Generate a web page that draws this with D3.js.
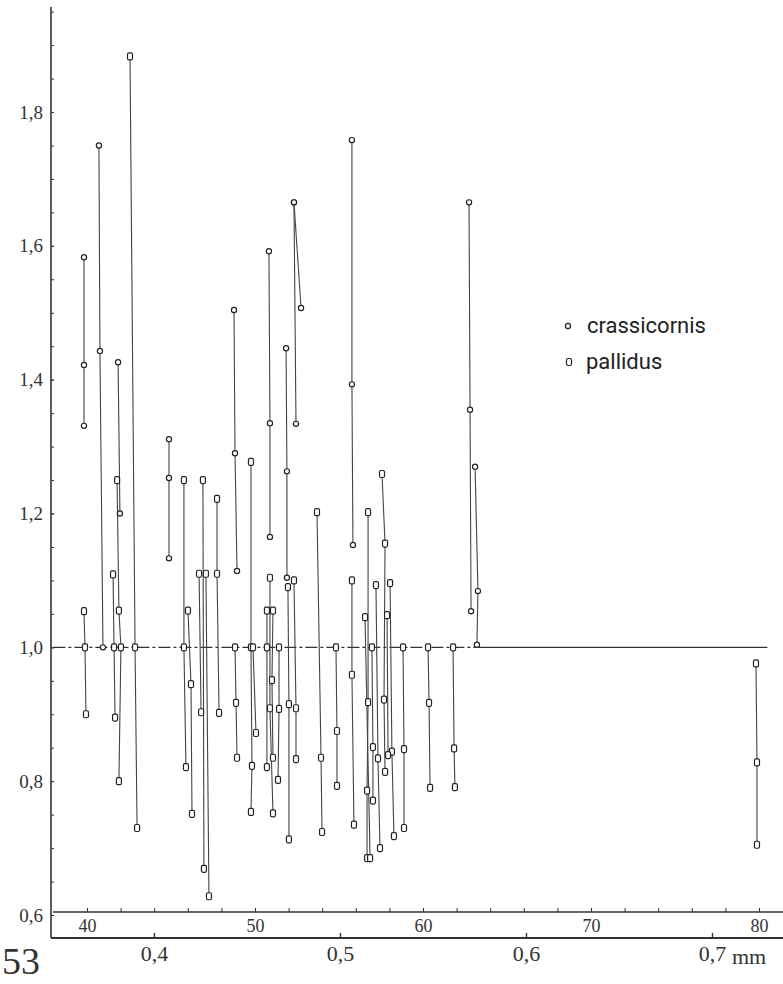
<!DOCTYPE html>
<html>
<head>
<meta charset="utf-8">
<script src="https://cdn.jsdelivr.net/npm/d3@7"></script>
<style>
  body { margin: 0; background: #fff; }
  svg { display: block; }
</style>
</head>
<body>
<div id="chart"></div>
<script>
// tick values
const ratioTicks = [0.6, 0.8, 1.0, 1.2, 1.4, 1.6, 1.8]
const countTicks = [40, 50, 60, 70, 80]
const mmTicks = [0.4, 0.5, 0.6, 0.7]

// reference line at ratio 1,0 (dashed part, then solid part), in count units
const refLine = { value: 1.0, start: 38, brk: 63.3, end: 80.5 }

// each line = points [count, ratio]
const crassicornis = [
  [[39.82, 1.583], [39.82, 1.422], [39.82, 1.331]],
  [[40.71, 1.75], [40.77, 1.443], [40.95, 1.0]],
  [[41.85, 1.426], [41.96, 1.2]],
  [[44.88, 1.311], [44.88, 1.253], [44.88, 1.133]],
  [[48.75, 1.504], [48.81, 1.29], [48.93, 1.114]],
  [[50.83, 1.592], [50.89, 1.335], [50.89, 1.165]],
  [[51.85, 1.447], [51.9, 1.263], [51.9, 1.104]],
  [[52.32, 1.665], [52.44, 1.334]],
  [[52.32, 1.665], [52.74, 1.507]],
  [[55.77, 1.758], [55.77, 1.393], [55.83, 1.153]],
  [[62.74, 1.665], [62.8, 1.355], [62.86, 1.054]],
  [[63.1, 1.27], [63.27, 1.084], [63.21, 1.004]]
]

const pallidus = [
  [[39.82, 1.054], [39.88, 1.0], [39.94, 0.9]],
  [[41.79, 1.25], [41.9, 1.055], [42.02, 1.0], [41.9, 0.8]],
  [[41.55, 1.109], [41.61, 1.0], [41.67, 0.895]],
  [[42.56, 1.883], [42.86, 1.0], [42.98, 0.73]],
  [[45.77, 1.25], [45.77, 1.0], [45.89, 0.821]],
  [[46.01, 1.055], [46.19, 0.945], [46.25, 0.751]],
  [[46.67, 1.11], [46.79, 0.903]],
  [[46.9, 1.25], [46.96, 0.669]],
  [[47.08, 1.11], [47.26, 0.628]],
  [[47.74, 1.222], [47.74, 1.11], [47.86, 0.902]],
  [[48.81, 1.0], [48.87, 0.917], [48.93, 0.835]],
  [[49.76, 1.277], [49.76, 1.0], [49.82, 0.823], [49.76, 0.754]],
  [[49.88, 1.0], [50.06, 0.872]],
  [[50.71, 1.055], [50.71, 1.0], [50.71, 0.821]],
  [[50.89, 1.104], [50.89, 0.909], [51.07, 0.752]],
  [[51.07, 1.055], [51.01, 0.951], [51.07, 0.835]],
  [[51.43, 1.0], [51.43, 0.908], [51.37, 0.802]],
  [[51.96, 1.09], [52.02, 0.915], [52.02, 0.713]],
  [[52.32, 1.1], [52.44, 0.909], [52.44, 0.833]],
  [[53.69, 1.202], [53.93, 0.835], [53.99, 0.724]],
  [[54.82, 1.0], [54.88, 0.875], [54.88, 0.793]],
  [[55.77, 1.1], [55.77, 0.959], [55.89, 0.735]],
  [[56.73, 1.202], [56.73, 0.918], [56.67, 0.786], [56.67, 0.685]],
  [[56.55, 1.045], [56.85, 0.685]],
  [[56.96, 1.0], [57.02, 0.851], [57.02, 0.771]],
  [[57.2, 1.093], [57.32, 0.834], [57.44, 0.7]],
  [[57.56, 1.259], [57.74, 1.155], [57.68, 0.922], [57.74, 0.814]],
  [[58.04, 1.096], [58.15, 0.844], [58.27, 0.718]],
  [[57.86, 1.048], [57.92, 0.839]],
  [[58.81, 1.0], [58.87, 0.848], [58.87, 0.73]],
  [[60.3, 1.0], [60.36, 0.917], [60.42, 0.79]],
  [[61.79, 1.0], [61.85, 0.849], [61.9, 0.791]],
  [[79.82, 0.976], [79.88, 0.828], [79.88, 0.705]]
]

const width = 783
const height = 984
const ink = "#333"
const serif = "Liberation Serif, DejaVu Serif, serif"

const svg = d3
  .select("#chart")
  .append("svg")
  .attr("width", width)
  .attr("height", height)

// scales
const x = d3.scaleLinear().domain([40, 80]).range([87, 759])
const xmm = d3.scaleLinear().domain([0.4, 0.7]).range([154, 712])
const y = d3.scaleLinear().domain([0.6, 1.8]).range([915, 112])

const axisX = 51
const countAxisY = 912
const mmAxisY = 938
const comma = (d) => d.toFixed(1).replace(".", ",")

// restyle an axis group: no domain, serif labels
function styleAxis(g, size) {
  g.select(".domain").remove()
  g.attr("font-family", serif)
  g.selectAll(".tick line").attr("stroke", ink)
  g.selectAll(".tick text").attr("font-family", serif).attr("font-size", size).attr("fill", ink)
}

// frame line
svg.append("line")
  .attr("x1", axisX).attr("x2", axisX)
  .attr("y1", y(1.957)).attr("y2", mmAxisY)
  .attr("stroke", ink).attr("stroke-width", 1.6)

// y axis: minor ticks then labelled ticks
svg.append("g")
  .attr("transform", `translate(${axisX},0)`)
  .call(d3.axisLeft(y).tickValues(d3.range(0.6, 1.951, 0.05)).tickSizeInner(-3).tickSizeOuter(0).tickFormat(""))
  .call((g) => styleAxis(g, 18))

svg.append("g")
  .attr("transform", `translate(${axisX},0)`)
  .call(d3.axisLeft(y).tickValues(ratioTicks).tickSizeInner(-3).tickSizeOuter(0).tickPadding(8).tickFormat(comma))
  .call((g) => styleAxis(g, 19))

// upper x axis (count)
svg.append("line")
  .attr("x1", axisX + 2).attr("x2", width)
  .attr("y1", countAxisY).attr("y2", countAxisY)
  .attr("stroke", ink).attr("stroke-width", 1.6)

svg.append("g")
  .attr("transform", `translate(0,${countAxisY})`)
  .call(d3.axisBottom(x).tickValues(d3.range(40, 81, 2)).tickSizeInner(-4).tickSizeOuter(0).tickFormat(""))
  .call((g) => styleAxis(g, 18))

svg.append("g")
  .attr("transform", `translate(0,${countAxisY})`)
  .call(d3.axisBottom(x).tickValues(countTicks).tickSizeInner(-4).tickSizeOuter(0).tickPadding(7))
  .call((g) => styleAxis(g, 18))

// lower x axis (mm)
svg.append("line")
  .attr("x1", axisX).attr("x2", width)
  .attr("y1", mmAxisY).attr("y2", mmAxisY)
  .attr("stroke", ink).attr("stroke-width", 1.8)

svg.append("g")
  .attr("transform", `translate(0,${mmAxisY})`)
  .call(d3.axisBottom(xmm).tickValues(mmTicks).tickSizeInner(-5).tickSizeOuter(0).tickPadding(7).tickFormat(comma))
  .call((g) => styleAxis(g, 22))
  .call((g) => g.selectAll(".tick line").attr("stroke-width", 1.4))

svg.append("text")
  .attr("x", xmm(0.7) + 20)
  .attr("y", mmAxisY + 26)
  .attr("font-family", serif)
  .attr("font-size", 22)
  .attr("fill", ink)
  .text("mm")

// page number
svg.append("text")
  .attr("x", 2)
  .attr("y", 974)
  .attr("font-family", serif)
  .attr("font-size", 38)
  .attr("fill", ink)
  .text("53")

// reference line at 1,0
svg.append("line")
  .attr("x1", x(refLine.start)).attr("x2", x(refLine.brk))
  .attr("y1", y(refLine.value)).attr("y2", y(refLine.value))
  .attr("stroke", ink).attr("stroke-width", 1.1)
  .attr("stroke-dasharray", "12,3,3,3")

svg.append("line")
  .attr("x1", x(refLine.brk)).attr("x2", x(refLine.end))
  .attr("y1", y(refLine.value)).attr("y2", y(refLine.value))
  .attr("stroke", ink).attr("stroke-width", 1.4)

// sample lines
const line = d3.line().x((d) => x(d[0])).y((d) => y(d[1]))

svg.append("g")
  .selectAll("path")
  .data(crassicornis.concat(pallidus))
  .join("path")
  .attr("d", line)
  .attr("fill", "none")
  .attr("stroke", "#444")
  .attr("stroke-width", 1.1)

// markers
svg.append("g")
  .selectAll("circle")
  .data(crassicornis.flat())
  .join("circle")
  .attr("cx", (d) => x(d[0]))
  .attr("cy", (d) => y(d[1]))
  .attr("r", 2.6)
  .attr("fill", "#fff")
  .attr("stroke", "#222")
  .attr("stroke-width", 1.2)

svg.append("g")
  .selectAll("rect")
  .data(pallidus.flat())
  .join("rect")
  .attr("x", (d) => x(d[0]) - 2.5)
  .attr("y", (d) => y(d[1]) - 3.5)
  .attr("width", 5)
  .attr("height", 7)
  .attr("rx", 1.5)
  .attr("fill", "#fff")
  .attr("stroke", "#222")
  .attr("stroke-width", 1.2)

// legend
const legend = svg.append("g").attr("font-family", "Roboto, sans-serif").attr("font-size", 22).attr("fill", "#222")
legend.append("circle").attr("cx", 568).attr("cy", 326).attr("r", 2.6)
  .attr("fill", "#fff").attr("stroke", "#222").attr("stroke-width", 1.2)
legend.append("text").attr("x", 587).attr("y", 333).text("crassicornis")
legend.append("rect").attr("x", 566.5).attr("y", 358.5).attr("width", 5).attr("height", 7).attr("rx", 1.5)
  .attr("fill", "#fff").attr("stroke", "#222").attr("stroke-width", 1.2)
legend.append("text").attr("x", 586).attr("y", 369).text("pallidus")
</script>
</body>
</html>
